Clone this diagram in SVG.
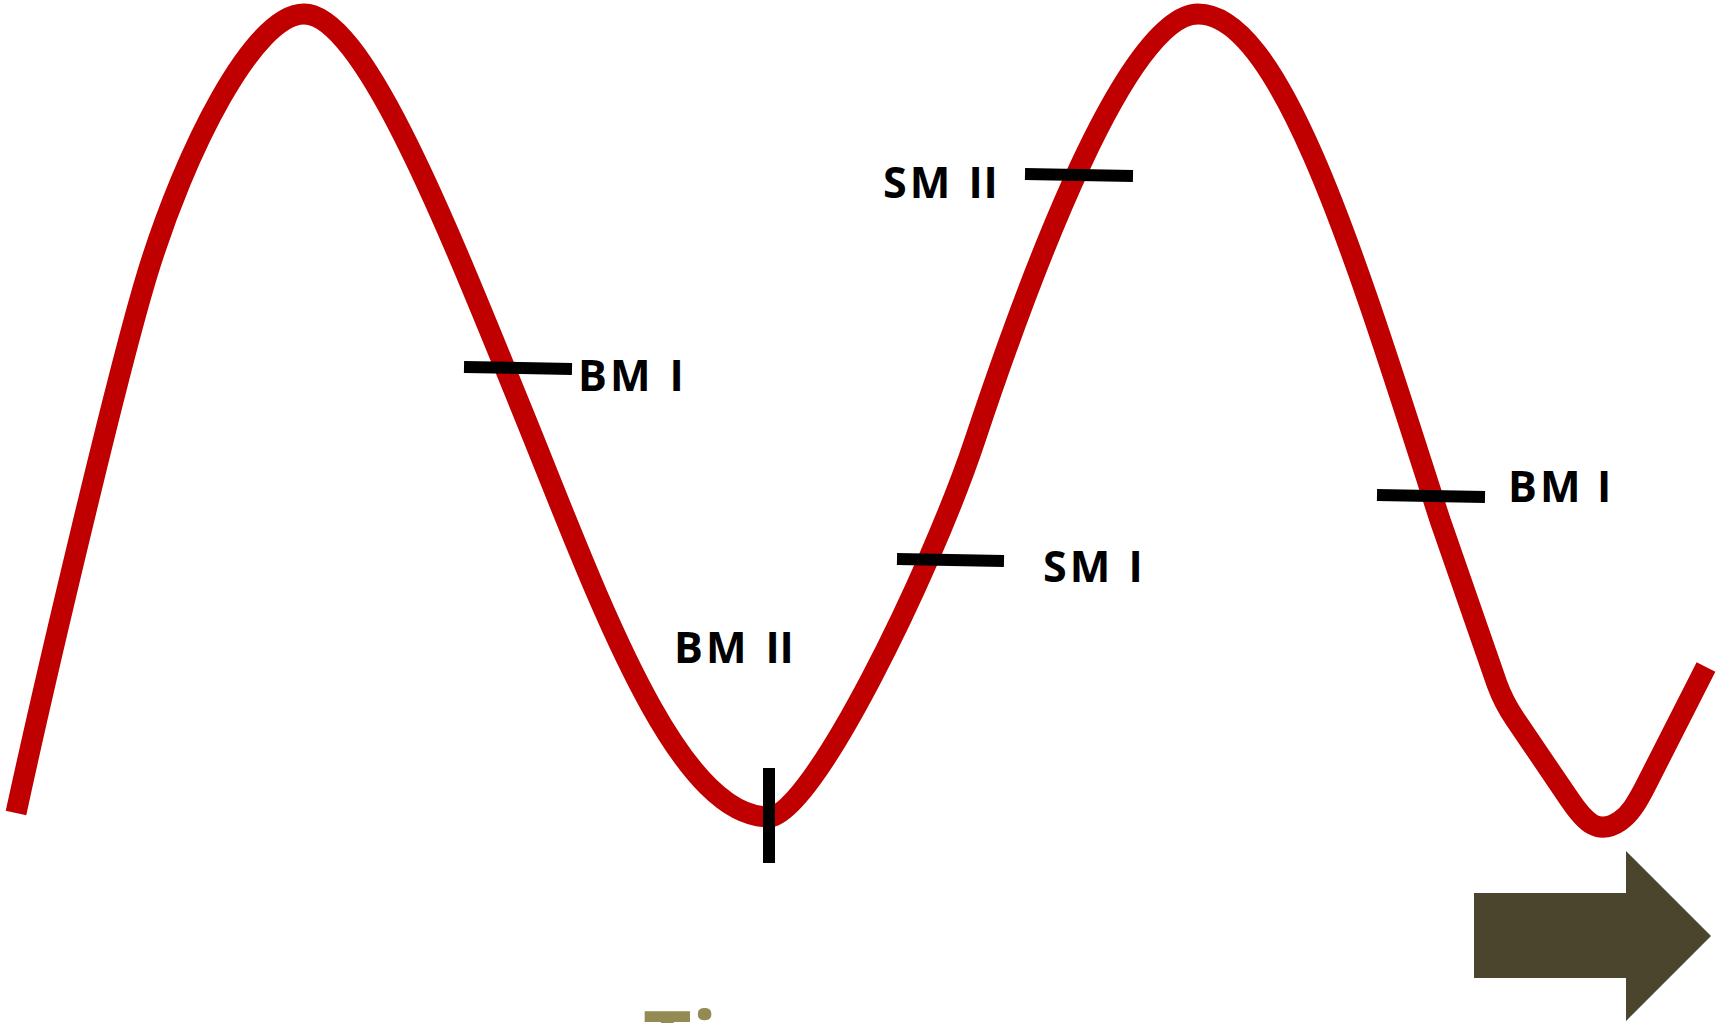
<svg xmlns="http://www.w3.org/2000/svg" width="1729" height="1023" viewBox="0 0 1729 1023">
<style>
.wave{fill:none;stroke:#C00000;stroke-width:21;stroke-linecap:butt;stroke-linejoin:round}
.tick{stroke:#000;stroke-width:12;stroke-linecap:butt}
.lbl{font-family:"Open Sans","Liberation Sans",sans-serif;font-weight:bold;font-size:43px;letter-spacing:3px;fill:#000}
.axis{font-family:"Open Sans","Liberation Sans",sans-serif;font-weight:bold;font-size:84px;fill:#948A54}
</style>
<rect width="1729" height="1023" fill="#fff"/>
<g id="connectors">
<path id="wave" class="wave" d="M16,813 C46,675 117,374 147,275 C185,150 254,14 304,14 C364,14 450,233.5 520,405 C595,588.75 674,817 769,817 C811,817 930,575 975,440 C1033,266 1128,14 1198,14 C1283,14 1360,272 1440,520 L1497,684 Q1504,703 1515,719 L1570,800 C1585,822 1598,836 1620,821 C1630,814 1636,804 1644,789 L1706,667"/>
</g>
<g id="bm1-left">
<line class="tick" x1="464" y1="367" x2="572" y2="369"/>
<text class="lbl" x="578" y="391">BM</text>
<text class="lbl" x="669.5" y="391">I</text>
</g>
<g id="bm2">
<line class="tick" x1="769" y1="768" x2="769" y2="863"/>
<text class="lbl" x="674" y="663">BM</text>
<text class="lbl" x="765.5" y="663">I</text>
<text class="lbl" x="779.5" y="663">I</text>
</g>
<g id="sm1">
<line class="tick" x1="897" y1="559" x2="1004" y2="561"/>
<text class="lbl" x="1043" y="582">SM</text>
<text class="lbl" x="1128.5" y="582">I</text>
</g>
<g id="sm2">
<line class="tick" x1="1025" y1="174" x2="1133" y2="176"/>
<text class="lbl" x="883" y="198">SM</text>
<text class="lbl" x="968.5" y="198">I</text>
<text class="lbl" x="983.5" y="198">I</text>
</g>
<g id="bm1-right">
<line class="tick" x1="1377" y1="495" x2="1485" y2="497"/>
<text class="lbl" x="1508" y="502">BM</text>
<text class="lbl" x="1597" y="502">I</text>
</g>
<g id="time-arrow">
<polygon points="1474,893 1626,893 1626,851 1711,936 1626,1021 1626,978 1474,978" fill="#4B452D"/>
</g>
<g id="time-label">
<text class="axis" x="643" y="1072">Time</text>
</g>
</svg>
